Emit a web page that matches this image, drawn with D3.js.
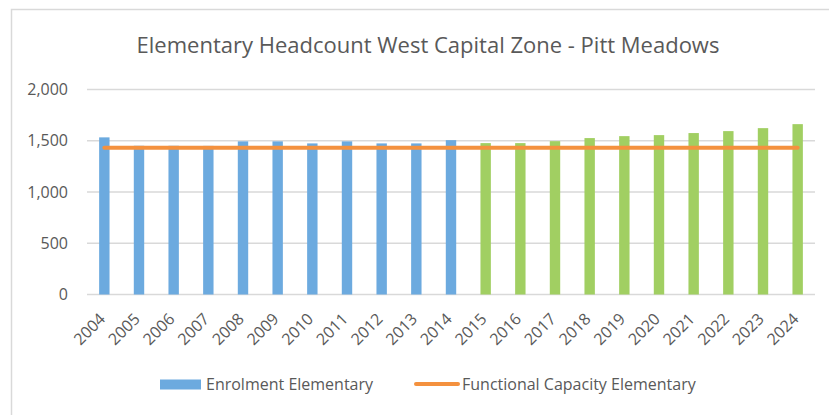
<!DOCTYPE html>
<html>
<head>
<meta charset="utf-8">
<style>
  body { margin: 0; background: #fff; }
  text { font-family: "Open Sans", sans-serif; fill: #595959; }
  .grid line { stroke: #d9d9d9; stroke-width: 1.5; }
</style>
</head>
<body>
<svg id="chart" width="829" height="415"></svg>
<script src="https://d3js.org/d3.v7.min.js"></script>
<script>
// data
var years = ["2004","2005","2006","2007","2008","2009","2010","2011","2012","2013","2014",
             "2015","2016","2017","2018","2019","2020","2021","2022","2023","2024"];
var enrolment = [1533, 1451, 1451, 1450, 1494, 1494, 1474, 1494, 1474, 1474, 1506,
                 1477, 1477, 1496, 1526, 1545, 1555, 1575, 1594, 1623, 1662];
var firstProjected = "2015";
var capacity = 1431;
var yTicks = [0, 500, 1000, 1500, 2000];

var blue = "#6caadf", green = "#a1cf62", orange = "#f4913e";

var svg = d3.select("#chart");

// outer frame
svg.append("rect")
  .attr("x", 11.5).attr("y", 9.5)
  .attr("width", 900).attr("height", 500)
  .attr("fill", "none")
  .attr("stroke", "#d9d9d9")
  .attr("stroke-width", 1.5);

svg.append("text")
  .attr("x", 428).attr("y", 53)
  .attr("text-anchor", "middle")
  .style("font-size", "22px")
  .text("Elementary Headcount West Capital Zone - Pitt Meadows");

var plotL = 87, plotR = 815, plotT = 89.5, plotB = 294.5;

var x = d3.scaleBand().domain(years).range([plotL, plotR]).paddingInner(0.7).paddingOuter(0.35);
var xc = d3.scalePoint().domain(years).range([plotL, plotR]).padding(0.5);
var y = d3.scaleLinear().domain([0, 2000]).range([plotB, plotT]);

// gridlines
svg.append("g").attr("class", "grid")
  .selectAll("line").data(yTicks)
  .enter().append("line")
  .attr("x1", plotL).attr("x2", plotR)
  .attr("y1", d => y(d)).attr("y2", d => y(d));

// y labels
svg.append("g")
  .selectAll("text").data(yTicks)
  .enter().append("text")
  .attr("x", 68).attr("y", d => y(d))
  .attr("dy", "0.35em")
  .attr("text-anchor", "end")
  .style("font-size", "16px")
  .text(d3.format(","));

// bars
var projStart = years.indexOf(firstProjected);
svg.append("g")
  .selectAll("rect").data(years)
  .enter().append("rect")
  .attr("x", d => x(d))
  .attr("width", x.bandwidth())
  .attr("y", (d, i) => y(enrolment[i]))
  .attr("height", (d, i) => y(0) - y(enrolment[i]))
  .attr("fill", (d, i) => i >= projStart ? green : blue);

// capacity line
svg.append("line")
  .attr("x1", xc(years[0])).attr("x2", xc(years[years.length - 1]))
  .attr("y1", y(capacity)).attr("y2", y(capacity))
  .attr("stroke", orange)
  .attr("stroke-width", 4)
  .attr("stroke-linecap", "round");

// x labels
svg.append("g")
  .selectAll("text").data(years)
  .enter().append("text")
  .attr("text-anchor", "end")
  .attr("transform", d => "translate(" + (xc(d) + 2) + "," + 320 + ") rotate(-45)")
  .style("font-size", "16px")
  .text(d => d);

// legend
var lg = svg.append("g");
lg.append("rect")
  .attr("x", 160).attr("y", 379.5).attr("width", 41).attr("height", 10)
  .attr("fill", blue);
lg.append("text")
  .attr("x", 206).attr("y", 390)
  .style("font-size", "16px")
  .text("Enrolment Elementary");
lg.append("line")
  .attr("x1", 416).attr("x2", 458)
  .attr("y1", 384).attr("y2", 384)
  .attr("stroke", orange).attr("stroke-width", 4)
  .attr("stroke-linecap", "round");
lg.append("text")
  .attr("x", 462).attr("y", 390)
  .style("font-size", "16px")
  .text("Functional Capacity Elementary");
</script>
</body>
</html>
